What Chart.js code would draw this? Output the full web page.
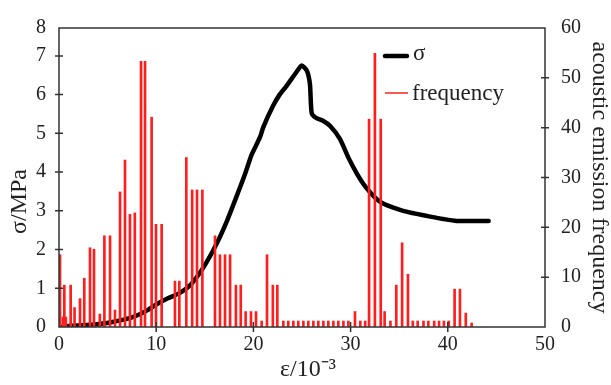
<!DOCTYPE html>
<html><head><meta charset="utf-8">
<script src="https://cdn.jsdelivr.net/npm/chart.js@4"></script>
<style>html,body{margin:0;padding:0;background:#fff}#wrap{width:611px;height:385px}</style>
</head><body><div id="wrap"><canvas id="c" width="611" height="385"></canvas></div>
<script>
// strain (ε/10^-3) and stress (σ/MPa) curve
const strainLine = [0,1.3,3.9,5.5,6.3,7.5,8.3,9.2,10.0,11.2,12.45,13.5,14.5,15.2,15.87,16.6,17.25,18.28,19.14,19.82,20.68,21.0,22.0,22.7,23.4,24.45,24.97,25.5,25.82,26.0,26.5,27.2,27.9,28.9,29.8,30.6,31.3,32.0,32.7,33.4,34.4,35.4,36.8,38.2,39.5,40.9,44.2];
const stress = [0,0.03,0.07,0.13,0.17,0.25,0.33,0.45,0.58,0.74,0.88,1.08,1.4,1.68,1.98,2.35,2.72,3.38,3.95,4.45,4.9,5.15,5.7,6.0,6.22,6.59,6.75,6.62,6.26,5.52,5.39,5.32,5.19,4.86,4.36,3.98,3.7,3.48,3.3,3.18,3.08,3.0,2.92,2.85,2.79,2.74,2.74];
// acoustic emission frequency bars
const strainBars = [0.1,0.4,0.55,0.7,1.2,1.6,2.16,2.6,3.19,3.6,4.2,4.67,5.25,5.76,6.28,6.79,7.3,7.8,8.44,8.85,9.53,9.98,10.56,11.93,12.38,13.1,13.7,14.2,14.75,16.05,16.56,17.08,17.6,18.2,18.7,19.2,19.75,20.27,20.85,21.4,22.0,22.46,23.08,23.59,24.11,24.62,25.14,25.65,26.17,26.68,27.2,27.71,28.23,28.74,29.26,29.77,30.45,31.0,31.5,31.9,32.5,33.1,33.5,34.1,34.7,35.3,35.9,36.4,36.9,37.5,38.0,38.6,39.1,39.6,40.1,40.7,41.25,41.85,42.45];
const frequency = [14.5,2,8.4,2,8.4,3.9,5.7,9.8,15.9,15.6,2.6,18.3,18.3,3.4,27.1,33.5,22.6,22.9,53.3,53.3,42.1,20.6,20.6,9.2,9.2,34.0,27.5,27.5,27.5,18.3,14.5,14.5,14.5,8.4,8.4,3.1,3.1,3.1,1.2,14.5,8.4,8.4,1.2,1.2,1.2,1.2,1.2,1.2,1.2,1.2,1.2,1.2,1.2,1.2,1.2,1.2,3.1,1.2,1.2,41.7,54.9,41.7,3.1,1.2,8.4,16.9,10.6,1.2,1.2,1.2,1.2,1.2,1.2,1.2,1.2,7.6,7.6,2.8,0.8];
const leftTicks = [0,1,2,3,4,5,6,7];
const leftTopLabel = '8';
const rightTicks = [0,10,20,30,40,50,60];
const xTicks = [0,10,20,30,40,50];
const seriesNames = ['σ','frequency'];

const FONT = "'Liberation Serif', 'Times New Roman', serif";
const TXT = '#222';
const LEFT_MAX = 7.72;

const framePlugin = {
  id:'frame',
  afterDatasetsDraw(chart){
    const {ctx, chartArea:a, scales} = chart;
    ctx.save();
    ctx.strokeStyle = '#333'; ctx.lineWidth = 1.5;
    ctx.strokeRect(a.left, a.top, a.right-a.left, a.bottom-a.top);
    ctx.beginPath();
    leftTicks.forEach(v=>{ if(v>0){ const p=scales.y.getPixelForValue(v); ctx.moveTo(a.left-4,p); ctx.lineTo(a.left+4,p);} });
    rightTicks.forEach(v=>{ if(v>0 && v<60){ const p=scales.y2.getPixelForValue(v); ctx.moveTo(a.right-4,p); ctx.lineTo(a.right+4,p);} });
    xTicks.forEach(v=>{ if(v>0 && v<50){ const p=scales.x.getPixelForValue(v); ctx.moveTo(p,a.bottom-5); ctx.lineTo(p,a.bottom+5);} });
    ctx.stroke();
    // legend
    const lx = a.left + 326, ly1 = a.top + 28, ly2 = a.top + 65;
    ctx.lineCap='round';
    ctx.strokeStyle='#000'; ctx.lineWidth=4.5;
    ctx.beginPath(); ctx.moveTo(lx,ly1); ctx.lineTo(lx+22,ly1); ctx.stroke();
    ctx.strokeStyle='rgb(255,30,30)'; ctx.lineWidth=1.5; ctx.lineCap='butt';
    ctx.beginPath(); ctx.moveTo(lx,ly2); ctx.lineTo(lx+23,ly2); ctx.stroke();
    ctx.fillStyle=TXT; ctx.font = '23px '+FONT; ctx.textBaseline='middle'; ctx.textAlign='left';
    ctx.fillText(seriesNames[0], lx+28, ly1-2);
    ctx.fillText(seriesNames[1], lx+27, ly2+1);
    ctx.restore();
  }
};

new Chart(document.getElementById('c'), {
  data:{
    datasets:[
      {type:'line', label:seriesNames[0], data: strainLine.map((x,i)=>({x, y:stress[i]})), yAxisID:'y', borderColor:'#000', borderWidth:4.5, pointRadius:0, tension:0.2, borderJoinStyle:'round', borderCapStyle:'round', order:2},
      {type:'bar', label:seriesNames[1], data: strainBars.map((x,i)=>({x, y:frequency[i]})), yAxisID:'y2', backgroundColor:'rgb(255,30,30)', borderWidth:0, barThickness:2, order:1}
    ]
  },
  options:{
    responsive:false, animation:false, devicePixelRatio:1,
    layout:{padding:{top:15,left:0,right:0,bottom:0}},
    plugins:{legend:{display:false}, tooltip:{enabled:false}},
    scales:{
      x:{type:'linear', min:0, max:50, offset:false, position:'bottom',
        afterBuildTicks: s=>{ s.ticks = xTicks.map(v=>({value:v})); },
        afterFit: s=>{ s.height = 58; },
        grid:{display:false, drawTicks:false, offset:false}, border:{display:false},
        ticks:{font:{family:FONT,size:20}, color:TXT, padding:6, maxRotation:0, autoSkip:false},
        title:{display:true, text:'  ε/10⁻³', font:{family:FONT,size:24,lineHeight:1}, color:TXT, padding:{top:0,bottom:3}}
      },
      y:{type:'linear', position:'left', min:0, max:LEFT_MAX,
        afterBuildTicks: s=>{ s.ticks = leftTicks.map(v=>({value:v})).concat([{value:LEFT_MAX}]); },
        afterFit: s=>{ s.width = 59; },
        grid:{display:false, drawTicks:false}, border:{display:false},
        ticks:{font:{family:FONT,size:20}, color:TXT, padding:13, autoSkip:false, callback:(v)=> v===LEFT_MAX ? leftTopLabel : String(v)},
        title:{display:true, text:'σ/MPa        ', font:{family:FONT,size:24,lineHeight:1}, color:TXT, padding:{top:8,bottom:0}}
      },
      y2:{type:'linear', position:'right', min:0, max:60,
        afterBuildTicks: s=>{ s.ticks = rightTicks.map(v=>({value:v})); },
        afterFit: s=>{ s.width = 66; },
        grid:{display:false, drawTicks:false}, border:{display:false},
        ticks:{font:{family:FONT,size:20}, color:TXT, padding:16, autoSkip:false},
        title:{display:true, text:'acoustic emission frequency', font:{family:FONT,size:24,lineHeight:1}, color:TXT, padding:{top:0,bottom:0}}
      }
    }
  },
  plugins:[framePlugin]
});
</script>
</body></html>
